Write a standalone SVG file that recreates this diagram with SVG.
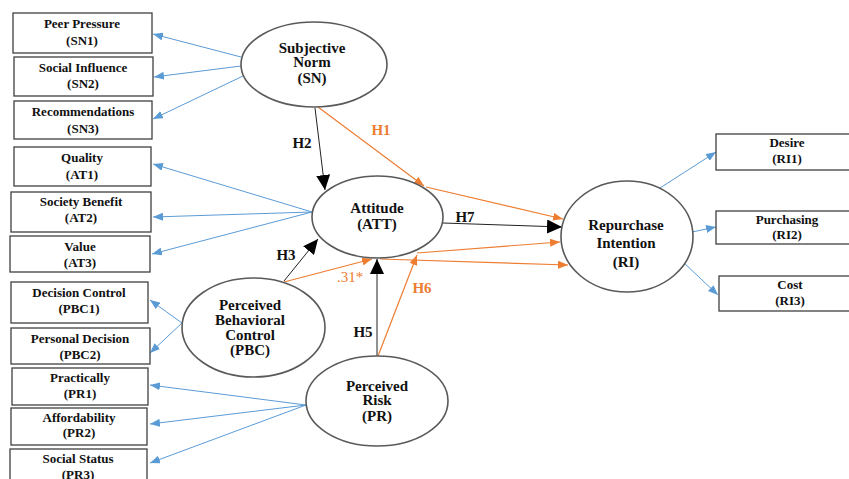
<svg xmlns="http://www.w3.org/2000/svg" width="849" height="479" viewBox="0 0 849 479">
<defs>
<style>
text{font-family:'Liberation Serif','Times New Roman',Tinos,'DejaVu Serif',serif;font-weight:bold;text-anchor:middle}
.box{fill:#fff;stroke:#404040;stroke-width:1.3}
.ell{fill:#fff;stroke:#595959;stroke-width:1.6}
.bt{font-size:13px;fill:#111}
.et{font-size:15px;fill:#111}
.lb{font-size:15px;fill:#111}
.lo{font-size:15px;fill:#ED7D31}
.blue{stroke:#5B9BD5;stroke-width:1;fill:none;marker-end:url(#ab)}
.org{stroke:#ED7D31;stroke-width:1.2;fill:none;marker-end:url(#ao)}
.blk{stroke:#222;stroke-width:1;fill:none;marker-end:url(#ak)}
</style>
<marker id="ab" markerUnits="userSpaceOnUse" markerWidth="10" markerHeight="8" refX="10" refY="4" orient="auto"><path d="M0,0 L10,4 L0,8 z" fill="#5B9BD5"/></marker>
<marker id="ao" markerUnits="userSpaceOnUse" markerWidth="10" markerHeight="8" refX="10" refY="4" orient="auto"><path d="M0,0 L10,4 L0,8 z" fill="#ED7D31"/></marker>
<marker id="ak" markerUnits="userSpaceOnUse" markerWidth="15" markerHeight="14" refX="15" refY="7" orient="auto"><path d="M0,0 L15,7 L0,14 z" fill="#000"/></marker>
</defs>
<rect width="849" height="479" fill="#fff"/>

<g id="connectors">
<line class="blue" x1="241" y1="57" x2="153" y2="34"/>
<line class="blue" x1="241" y1="66" x2="154" y2="77"/>
<line class="blue" x1="243" y1="76" x2="153" y2="119"/>
<line class="blue" x1="312" y1="212" x2="153" y2="164"/>
<line class="blue" x1="312" y1="212" x2="153" y2="217"/>
<line class="blue" x1="312" y1="212" x2="152" y2="254"/>
<line class="blue" x1="182" y1="323" x2="150" y2="300"/>
<line class="blue" x1="182" y1="323" x2="150" y2="353"/>
<line class="blue" x1="306" y1="405" x2="150" y2="385"/>
<line class="blue" x1="306" y1="405" x2="150" y2="424"/>
<line class="blue" x1="306" y1="405" x2="150" y2="463"/>
<line class="blue" x1="660" y1="188" x2="716" y2="152"/>
<line class="blue" x1="692" y1="232" x2="716" y2="227"/>
<line class="blue" x1="683" y1="262" x2="718" y2="295"/>
<line class="blk" x1="315" y1="108" x2="325" y2="190"/>
<line class="blk" x1="284" y1="281" x2="318" y2="239"/>
<line class="blk" x1="377" y1="356" x2="377" y2="259"/>
<line class="blk" x1="443" y1="223" x2="562" y2="227"/>
<line class="org" x1="318" y1="107" x2="424" y2="186"/>
<line class="org" x1="426" y1="187" x2="563" y2="219"/>
<line class="org" x1="284" y1="282" x2="372" y2="259"/>
<line class="org" x1="380" y1="259" x2="568" y2="265"/>
<line class="org" x1="378" y1="356" x2="417" y2="255"/>
<line class="org" x1="417" y1="253" x2="560" y2="242"/>
<text class="lo" x="381" y="135">H1</text>
<text class="lb" x="302" y="148">H2</text>
<text class="lb" x="286" y="260">H3</text>
<text class="lb" x="363" y="337">H5</text>
<text class="lo" x="422" y="293">H6</text>
<text class="lb" x="465" y="222">H7</text>
<text class="lo" x="350" y="282" style="font-weight:normal">.31*</text>
</g>

<g id="SN1"><rect class="box" x="13" y="13" width="139" height="40"/><text class="bt" x="82" y="28">Peer Pressure</text><text class="bt" x="82" y="45">(SN1)</text></g>
<g id="SN2"><rect class="box" x="14" y="57" width="139" height="39"/><text class="bt" x="83" y="72">Social Influence</text><text class="bt" x="83" y="88">(SN2)</text></g>
<g id="SN3"><rect class="box" x="14" y="101" width="138" height="38"/><text class="bt" x="83" y="116">Recommendations</text><text class="bt" x="83" y="133">(SN3)</text></g>
<g id="AT1"><rect class="box" x="14" y="147" width="137" height="39"/><text class="bt" x="82" y="162">Quality</text><text class="bt" x="82" y="179">(AT1)</text></g>
<g id="AT2"><rect class="box" x="11" y="192" width="140" height="40"/><text class="bt" x="81" y="206">Society Benefit</text><text class="bt" x="81" y="222">(AT2)</text></g>
<g id="AT3"><rect class="box" x="10" y="236" width="140" height="36"/><text class="bt" x="80" y="251">Value</text><text class="bt" x="80" y="267">(AT3)</text></g>
<g id="PBC1"><rect class="box" x="11" y="282" width="137" height="41"/><text class="bt" x="79" y="297">Decision Control</text><text class="bt" x="79" y="313">(PBC1)</text></g>
<g id="PBC2"><rect class="box" x="11" y="328" width="139" height="36"/><text class="bt" x="80" y="343">Personal Decision</text><text class="bt" x="80" y="359">(PBC2)</text></g>
<g id="PR1"><rect class="box" x="12" y="368" width="136" height="37"/><text class="bt" x="80" y="382">Practically</text><text class="bt" x="80" y="398">(PR1)</text></g>
<g id="PR2"><rect class="box" x="11" y="408" width="136" height="37"/><text class="bt" x="79" y="422">Affordability</text><text class="bt" x="79" y="437">(PR2)</text></g>
<g id="PR3"><rect class="box" x="10" y="449" width="137" height="40"/><text class="bt" x="78" y="463">Social Status</text><text class="bt" x="78" y="479">(PR3)</text></g>
<g id="RI1"><rect class="box" x="716" y="134" width="150" height="36"/><text class="bt" x="787" y="147">Desire</text><text class="bt" x="787" y="163">(RI1)</text></g>
<g id="RI2"><rect class="box" x="716" y="211" width="150" height="33"/><text class="bt" x="787" y="224">Purchasing</text><text class="bt" x="787" y="239">(RI2)</text></g>
<g id="RI3"><rect class="box" x="719" y="276" width="150" height="35"/><text class="bt" x="790" y="289">Cost</text><text class="bt" x="790" y="305">(RI3)</text></g>

<g id="SN"><ellipse class="ell" cx="314" cy="64.5" rx="73" ry="42.5"/><text class="et" x="312" y="53">Subjective</text><text class="et" x="312" y="67">Norm</text><text class="et" x="312" y="83">(SN)</text></g>
<g id="ATT"><ellipse class="ell" cx="377.5" cy="217" rx="65.5" ry="41"/><text class="et" x="377" y="213">Attitude</text><text class="et" x="377" y="229">(ATT)</text></g>
<g id="RI"><ellipse class="ell" cx="627" cy="236.5" rx="66" ry="55.5"/><text class="et" x="626" y="230">Repurchase</text><text class="et" x="626" y="248">Intention</text><text class="et" x="626" y="267">(RI)</text></g>
<g id="PBC"><ellipse class="ell" cx="253.5" cy="327.5" rx="71.5" ry="49.5"/><text class="et" x="250" y="310">Perceived</text><text class="et" x="250" y="325">Behavioral</text><text class="et" x="250" y="340">Control</text><text class="et" x="250" y="355">(PBC)</text></g>
<g id="PR"><ellipse class="ell" cx="377" cy="401" rx="71" ry="45"/><text class="et" x="377" y="391">Perceived</text><text class="et" x="377" y="405">Risk</text><text class="et" x="377" y="421">(PR)</text></g>
</svg>
